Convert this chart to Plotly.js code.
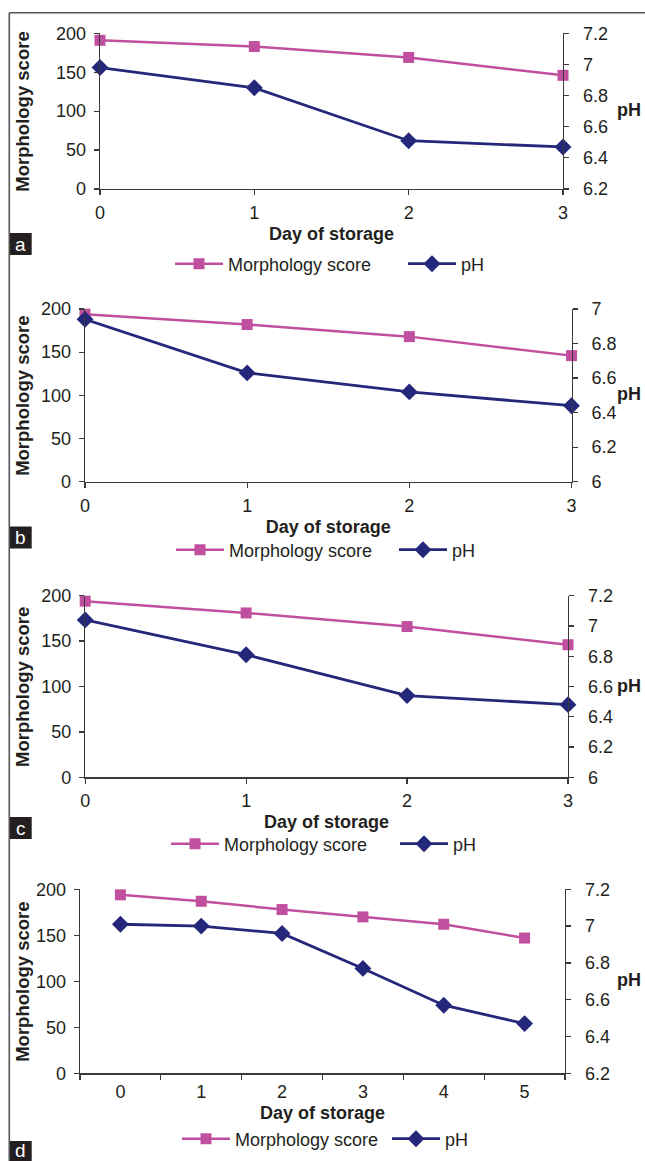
<!DOCTYPE html>
<html>
<head>
<meta charset="utf-8">
<script src="https://cdn.plot.ly/plotly-3.0.1.min.js"></script>
<style>
  html, body { margin: 0; padding: 0; background: #ffffff; }
  #chart { width: 645px; height: 1161px; }
</style>
</head>
<body>
<div id="chart"></div>
<script>
// ---- data ----
const days3 = [0, 1, 2, 3];
const days5 = [0, 1, 2, 3, 4, 5];

const morphA = [191, 183, 169, 146];
const phA    = [6.98, 6.85, 6.51, 6.47];

const morphB = [194, 182, 168, 146];
const phB    = [6.94, 6.63, 6.52, 6.44];

const morphC = [194, 181, 166, 146];
const phC    = [7.04, 6.81, 6.54, 6.48];

const morphD = [194, 187, 178, 170, 162, 147];
const phD    = [7.01, 7.00, 6.96, 6.77, 6.57, 6.47];

const panelLetters = ['a', 'b', 'c', 'd'];
const seriesNames = ['Morphology score', 'pH'];
const xTitle = 'Day of storage';
const yTitle = 'Morphology score';
const y2Title = 'pH';

// ---- styling ----
const W = 645, H = 1161;
const FONT = 'Liberation Sans, Arial, Helvetica, sans-serif';
const TXT = '#231f20';
const MAG = '#c0509f';
const NAVY = '#25287a';
const AXC = '#3a3a3a';

const px = v => v / W;
const py = v => 1 - v / H;

// panel geometry in pixels
const panels = [
  {x: days3, m: morphA, p: phA, L: 100,  R: 563,   T: 33.3,  B: 189,    phR: [6.2, 7.2], legY: 264,  legX: 170, entry: 170, boxT: 233,   letY: 244, cat: false},
  {x: days3, m: morphB, p: phB, L: 85,   R: 571.5, T: 309,   B: 481.7,  phR: [6.0, 7.0], legY: 550,  legX: 171, entry: 160, boxT: 526.5, letY: 537.5, cat: false},
  {x: days3, m: morphC, p: phC, L: 85.2, R: 568,   T: 595.7, B: 777.3,  phR: [6.0, 7.2], legY: 844,  legX: 166, entry: 166, boxT: 817,   letY: 828, cat: false},
  {x: days5, m: morphD, p: phD, L: 80,   R: 565,   T: 889.3, B: 1073.3, phR: [6.2, 7.2], legY: 1139, legX: 177, entry: 147, boxT: 1141,  letY: 1150, cat: true}
];

const data = [];
const layout = {
  width: W, height: H,
  margin: {l: 0, r: 0, t: 0, b: 0},
  paper_bgcolor: '#ffffff',
  plot_bgcolor: 'rgba(0,0,0,0)',
  font: {family: FONT, color: TXT, size: 18},
  shapes: [],
  annotations: [],
  showlegend: true
};

const tickStyle = {ticklen: 5, tickwidth: 1.2, tickcolor: AXC};

panels.forEach((pn, i) => {
  const xa = i === 0 ? 'xaxis' : 'xaxis' + (i + 1);
  const xr = i === 0 ? 'x' : 'x' + (i + 1);
  const ly = 2 * i + 1, ry = 2 * i + 2;
  const lya = ly === 1 ? 'yaxis' : 'yaxis' + ly;
  const lyr = ly === 1 ? 'y' : 'y' + ly;
  const rya = 'yaxis' + ry, ryr = 'y' + ry;
  const legKey = i === 0 ? 'legend' : 'legend' + (i + 1);

  data.push({
    type: 'scatter', mode: 'lines+markers', name: seriesNames[0],
    x: pn.x, y: pn.m, xaxis: xr, yaxis: lyr, legend: legKey,
    line: {color: MAG, width: 2.5},
    marker: {symbol: 'square', size: 11, color: MAG},
    cliponaxis: false, hoverinfo: 'skip'
  });
  data.push({
    type: 'scatter', mode: 'lines+markers', name: seriesNames[1],
    x: pn.x, y: pn.p, xaxis: xr, yaxis: ryr, legend: legKey,
    line: {color: NAVY, width: 2.8},
    marker: {symbol: 'diamond', size: 13, color: NAVY},
    cliponaxis: false, hoverinfo: 'skip'
  });

  const xdom = [px(pn.L), px(pn.R)];
  const ydom = [py(pn.B), py(pn.T)];

  const xaxis = Object.assign({
    domain: xdom, anchor: lyr,
    showline: true, linecolor: AXC, linewidth: 1.3,
    showgrid: false, zeroline: false,
    ticks: 'outside',
    ticklabelstandoff: 2,
    tickfont: {size: 18, color: TXT, family: FONT},
    title: {text: xTitle, font: {size: 18, weight: 'bold', color: TXT, family: FONT}, standoff: 5},
    automargin: false, fixedrange: true
  }, tickStyle);
  if (pn.cat) {
    xaxis.type = 'category';
    xaxis.tickson = 'boundaries';
    xaxis.range = [-0.5, pn.x.length - 0.5];
  } else {
    xaxis.type = 'linear';
    xaxis.range = [pn.x[0], pn.x[pn.x.length - 1]];
    xaxis.tick0 = 0; xaxis.dtick = 1;
  }
  layout[xa] = xaxis;

  layout[lya] = Object.assign({
    domain: ydom, anchor: xr,
    range: [0, 200], tick0: 0, dtick: 50,
    showline: true, linecolor: AXC, linewidth: 1.3,
    showgrid: false, zeroline: false,
    ticks: 'outside',
    ticklabelstandoff: 4,
    tickfont: {size: 18, color: TXT, family: FONT},
    automargin: false, fixedrange: true
  }, tickStyle);
  layout[rya] = Object.assign({
    overlaying: lyr, side: 'right', anchor: xr,
    range: pn.phR, tick0: pn.phR[0], dtick: 0.2,
    showline: true, linecolor: AXC, linewidth: 1.3,
    showgrid: false, zeroline: false,
    ticks: 'outside',
    ticklabelstandoff: 10,
    tickfont: {size: 18, color: TXT, family: FONT},
    automargin: false, fixedrange: true
  }, tickStyle);

  // companion axes (no labels) that add the inner half of each tick, so ticks cross the axis lines
  const xin = 'xaxis' + (i + 5);
  layout[xin] = Object.assign({
    overlaying: xr, anchor: lyr, side: 'bottom',
    type: xaxis.type, range: xaxis.range, tick0: xaxis.tick0, dtick: xaxis.dtick,
    tickson: xaxis.tickson, categoryarray: pn.cat ? pn.x : undefined,
    showline: false, showgrid: false, zeroline: false, showticklabels: false,
    ticks: 'inside', automargin: false, fixedrange: true
  }, tickStyle);
  const yinL = 'yaxis' + (i + 9);
  layout[yinL] = Object.assign({
    overlaying: lyr, anchor: xr, side: 'left',
    range: [0, 200], tick0: 0, dtick: 50,
    showline: false, showgrid: false, zeroline: false, showticklabels: false,
    ticks: 'inside', automargin: false, fixedrange: true
  }, tickStyle);
  const yinR = 'yaxis' + (i + 13);
  layout[yinR] = Object.assign({
    overlaying: lyr, anchor: xr, side: 'right',
    range: pn.phR, tick0: pn.phR[0], dtick: 0.2,
    showline: false, showgrid: false, zeroline: false, showticklabels: false,
    ticks: 'inside', automargin: false, fixedrange: true
  }, tickStyle);

  layout[legKey] = {
    orientation: 'h', x: px(pn.legX), y: py(pn.legY),
    xanchor: 'left', yanchor: 'middle',
    font: {size: 18, color: TXT, family: FONT},
    bgcolor: 'rgba(0,0,0,0)', borderwidth: 0,
    itemwidth: 48, entrywidth: pn.entry, entrywidthmode: 'pixels',
    itemclick: false, itemdoubleclick: false
  };

  // left axis title
  layout.annotations.push({
    xref: 'paper', yref: 'paper', x: px(22.5), y: py((pn.T + pn.B) / 2 + 1),
    xanchor: 'center', yanchor: 'middle', showarrow: false, textangle: -90,
    text: yTitle, font: {size: 18.5, weight: 'bold', color: TXT, family: FONT}
  });
  // pH axis title (horizontal, as in the reference)
  layout.annotations.push({
    xref: 'paper', yref: 'paper', x: px(615), y: py((pn.T + pn.B) / 2 - 1),
    xanchor: 'left', yanchor: 'middle', showarrow: false,
    text: y2Title, font: {size: 18, weight: 'bold', color: TXT, family: FONT}
  });

  // panel letter box
  layout.shapes.push({
    type: 'rect', xref: 'paper', yref: 'paper',
    x0: px(9.3), x1: px(31.7), y0: py(Math.min(pn.boxT + 22, H)), y1: py(pn.boxT),
    fillcolor: '#231f20', line: {width: 0}, layer: 'above'
  });
  layout.annotations.push({
    xref: 'paper', yref: 'paper', x: px(20.5), y: py(pn.letY),
    xanchor: 'center', yanchor: 'middle', showarrow: false,
    text: panelLetters[i], font: {size: 19, color: '#ffffff', family: FONT}
  });
});

// outer frame (top and left edges)
layout.shapes.push({type: 'line', xref: 'paper', yref: 'paper', x0: px(9.3), x1: 1, y0: py(12.7), y1: py(12.7), line: {color: '#555555', width: 1.6}});
layout.shapes.push({type: 'line', xref: 'paper', yref: 'paper', x0: px(9.3), x1: px(9.3), y0: 0, y1: py(12.7), line: {color: '#555555', width: 1.6}});

Plotly.newPlot('chart', data, layout, {displayModeBar: false, staticPlot: true});
</script>
</body>
</html>
